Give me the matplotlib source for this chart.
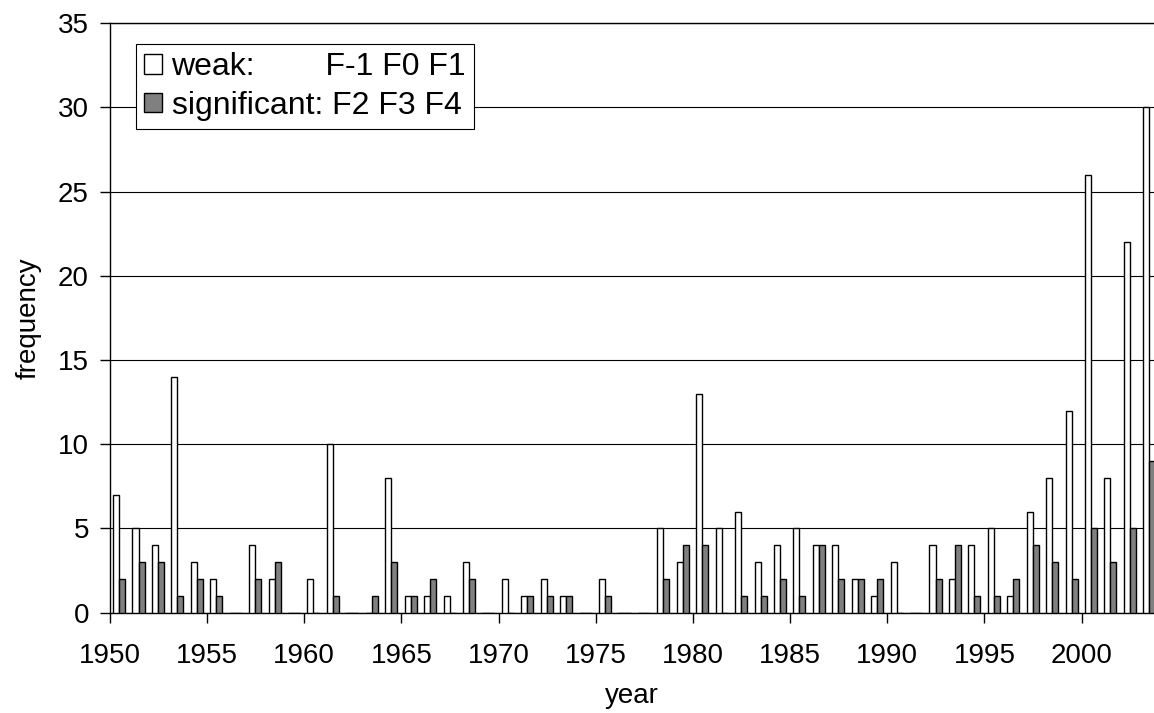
import matplotlib
matplotlib.use('Agg')
import matplotlib.pyplot as plt
import numpy as np

plt.rcParams['font.family'] = ['Liberation Sans', 'DejaVu Sans']

years = np.arange(1950, 2004)
weak = [7, 5, 4, 14, 3, 2, 0, 4, 2, 0,
        2, 10, 0, 0, 8, 1, 1, 1, 3, 0,
        2, 1, 2, 1, 0, 2, 0, 0, 5, 3,
        13, 5, 6, 3, 4, 5, 4, 4, 2, 1,
        3, 0, 4, 2, 4, 5, 1, 6, 8, 12,
        26, 8, 22, 30]
significant = [2, 3, 3, 1, 2, 1, 0, 2, 3, 0,
               0, 1, 0, 1, 3, 1, 2, 0, 2, 0,
               0, 1, 1, 1, 0, 1, 0, 0, 2, 4,
               4, 0, 1, 1, 2, 1, 4, 2, 2, 2,
               0, 0, 2, 4, 1, 1, 2, 4, 3, 2,
               5, 3, 5, 9]
labels = ['weak:' + ' ' * 8 + 'F-1 F0 F1', 'significant: F2 F3 F4']

fig = plt.figure(figsize=(11.54, 7.13), dpi=100)
ax = fig.add_axes([0.0951, 0.1407, 0.9049, 0.827])

w = 0.31
ax.bar(years + 0.17, weak, width=w, align='edge', color='white',
       edgecolor='black', linewidth=1.0, label=labels[0], zorder=3)
ax.bar(years + 0.17 + w, significant, width=w, align='edge', color='#808080',
       edgecolor='black', linewidth=1.0, label=labels[1], zorder=3)

ax.set_xlim(1950, 2003.72)
ax.set_ylim(0, 35)
ax.set_xticks(np.arange(1950, 2001, 5))
ax.set_yticks(np.arange(0, 36, 5))
ax.yaxis.grid(True, color='black', linewidth=0.8)
ax.set_axisbelow(True)

ax.spines['right'].set_visible(False)
for s in ['left', 'bottom', 'top']:
    ax.spines[s].set_linewidth(1.0)
    ax.spines[s].set_color('black')

ax.tick_params(axis='both', labelsize=20, direction='out', width=1.0, length=7)
ax.tick_params(axis='y', pad=8)
ax.tick_params(axis='x', pad=15)

ax.set_xlabel('year', fontsize=20, labelpad=10)
ax.set_ylabel('frequency', fontsize=20, labelpad=12)

leg = ax.legend(loc='upper left', bbox_to_anchor=(0.0252, 0.964), fontsize=23,
                frameon=True, fancybox=False, framealpha=1, edgecolor='black',
                handlelength=0.56, handleheight=0.56, handletextpad=0.3,
                labelspacing=0.26, borderpad=0.25, borderaxespad=0)
leg.get_frame().set_linewidth(0.8)

fig.savefig('out.png', dpi=100)
